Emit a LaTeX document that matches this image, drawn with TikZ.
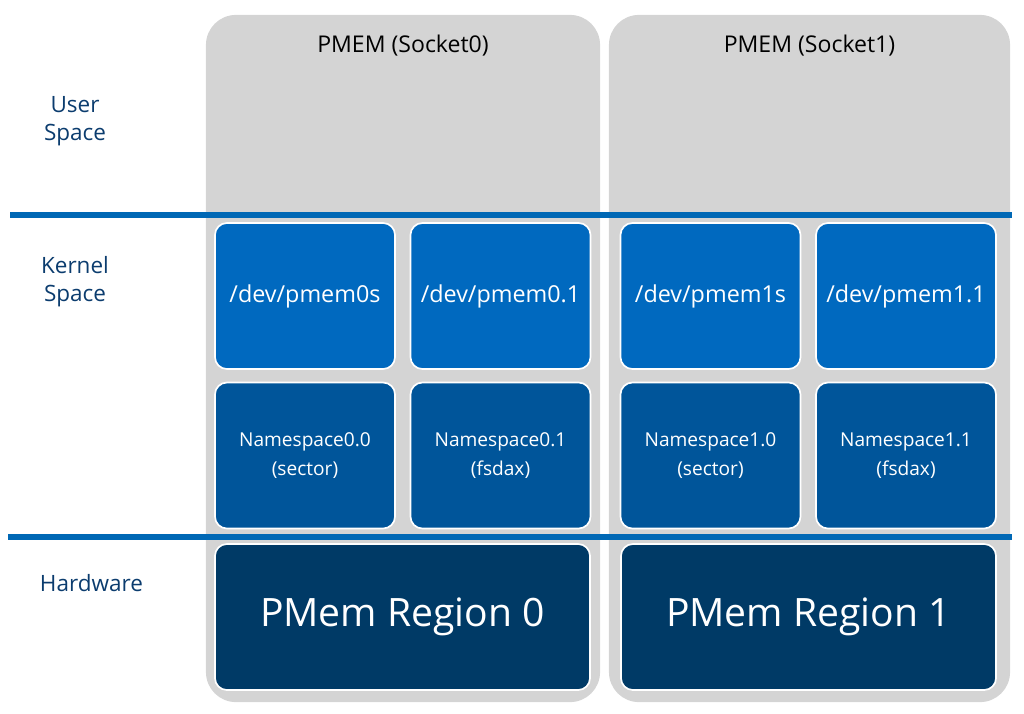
\documentclass[tikz,border=0pt]{standalone}
\usepackage{fontspec}
\setmainfont{Open Sans}
\usepackage{xcolor}
\definecolor{PanelGray}{HTML}{D4D4D4}
\definecolor{LineBlue}{HTML}{0068B5}
\definecolor{DevBlue}{HTML}{0069BF}
\definecolor{NsBlue}{HTML}{00559A}
\definecolor{RegionBlue}{HTML}{003A66}
\definecolor{LabelBlue}{HTML}{0B3C6E}
\usetikzlibrary{calc, positioning}
\tikzset{
  panel/.style={fill=PanelGray, draw=none, rounded corners=0.75cm,
    minimum height=17.175cm, inner sep=0pt},
  devbox/.style={fill=DevBlue, draw=white, line width=1.2pt, rounded corners=0.3cm,
    minimum width=4.5cm, minimum height=3.65cm, text=white, inner sep=0pt,
    font=\fontsize{16.6}{19}\selectfont},
  nsbox/.style={devbox, fill=NsBlue, align=center,
    font=\fontsize{13.6}{21}\selectfont},
  regionbox/.style={devbox, fill=RegionBlue, minimum width=9.375cm,
    font=\fontsize{27.8}{32}\selectfont},
  layerlabel/.style={text=LabelBlue, align=center,
    font=\fontsize{16}{20}\selectfont},
  socketlabel/.style={text=black, font=\fontsize{16.4}{19}\selectfont},
  divider/.style={LineBlue, line width=4.3pt}
}

\begin{document}
\begin{tikzpicture}[x=0.025cm, y=-0.025cm]
    \useasboundingbox (0,0) rectangle (1024,713);
    % socket panels
    \node[panel, minimum width=9.85cm] (panel0) at (403,358.5) {};
    \node[panel, minimum width=10.025cm] (panel1) at (809.5,358.5) {};
    \node[socketlabel] (sock0) at (403,46) {PMEM (Socket0)};
    \node[socketlabel] (sock1) at (809.5,46) {PMEM (Socket1)};

    % layer dividers
    \coordinate (userL) at (10,215);
    \coordinate (userR) at (1012,215);
    \coordinate (hwL) at (8,537);
    \coordinate (hwR) at (1012,537);
    \draw[divider] (userL) -- (userR);
    \draw[divider] (hwL) -- (hwR);

    % layer labels
    \node[layerlabel] (user) at (75,121) {User\\Space};
    \node[layerlabel] (kernel) at (75,282) {Kernel\\Space};
    \node[layerlabel] (hw) at (91.5,583) {Hardware};

    % kernel devices
    \node[devbox] (dev0s) at (305,296) {/dev/pmem0s};
    \node[devbox] (dev01) at (500.5,296) {/dev/pmem0.1};
    \node[devbox] (dev1s) at (710.5,296) {/dev/pmem1s};
    \node[devbox] (dev11) at (906,296) {/dev/pmem1.1};

    % namespaces
    \node[nsbox] (ns00) at (305,455.5) {Namespace0.0\\(sector)};
    \node[nsbox] (ns01) at (500.5,455.5) {Namespace0.1\\(fsdax)};
    \node[nsbox] (ns10) at (710.5,455.5) {Namespace1.0\\(sector)};
    \node[nsbox] (ns11) at (906,455.5) {Namespace1.1\\(fsdax)};

    % hardware regions
    \node[regionbox] (region0) at (402.5,617) {PMem Region 0};
    \node[regionbox] (region1) at (808.5,617) {PMem Region 1};
\end{tikzpicture}
\end{document}
